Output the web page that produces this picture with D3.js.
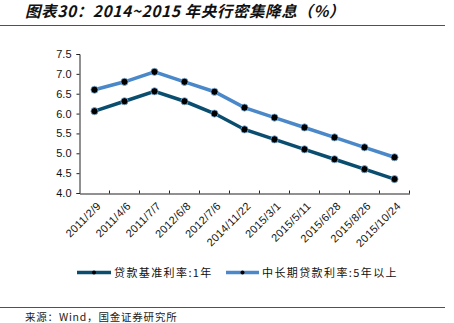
<!DOCTYPE html>
<html><head><meta charset="utf-8">
<script src="https://cdn.jsdelivr.net/npm/d3@7"></script>
<style>body{margin:0;background:#fff}svg{display:block}</style>
</head><body>
<script>
const categories = ["2011/2/9","2011/4/6","2011/7/7","2012/6/8","2012/7/6","2014/11/22","2015/3/1","2015/5/11","2015/6/28","2015/8/26","2015/10/24"];
const loan1y = [6.06,6.31,6.56,6.31,6.00,5.60,5.35,5.10,4.85,4.60,4.35];
const loan5y = [6.60,6.80,7.05,6.80,6.55,6.15,5.90,5.65,5.40,5.15,4.90];
const yTicks = [4.0,4.5,5.0,5.5,6.0,6.5,7.0,7.5];
const seriesNames = ["贷款基准利率:1年","中长期贷款利率:5年以上"];
const titleText = "图表30：2014~2015 年央行密集降息（%）";
const sourceText = "来源：Wind，国金证券研究所";

const W=454,H=323;
const svg=d3.select("body").append("svg").attr("width",W).attr("height",H);
const font="'Noto Sans CJK SC','Liberation Sans',Arial,sans-serif";

// title
svg.append("text").attr("x",25).attr("y",17).attr("font-family",font).attr("font-size",15.5)
  .attr("font-style","italic").attr("font-weight","bold").attr("letter-spacing",0.6).attr("fill","#111").text(titleText);
svg.append("line").attr("x1",0).attr("x2",445).attr("y1",25.5).attr("y2",25.5).attr("stroke","#1f5f8b").attr("stroke-width",1.2);
svg.append("line").attr("x1",0).attr("x2",445).attr("y1",307.5).attr("y2",307.5).attr("stroke","#1f5f8b").attr("stroke-width",1.2);
svg.append("text").attr("x",25).attr("y",321).attr("font-family",font).attr("font-size",10.5).attr("letter-spacing",0.8).attr("fill","#222").text(sourceText);

const x=d3.scaleBand().domain(categories).range([79.5,409.5]);
const y=d3.scaleLinear().domain([4,7.5]).range([193,54]);

const yAxis=svg.append("g").attr("transform","translate(79.5,0)")
  .call(d3.axisLeft(y).tickValues(yTicks).tickFormat(d3.format(".1f")).tickSize(3).tickPadding(5));
yAxis.select(".domain").attr("stroke","#222");
yAxis.selectAll("line").attr("stroke","#222");
yAxis.selectAll("text").attr("font-family","'Liberation Sans',Arial,sans-serif").attr("font-size",11).attr("fill","#111");

const xAxis=svg.append("g").attr("transform","translate(0,193.5)")
  .call(d3.axisBottom(x).tickSize(0).tickSizeOuter(0));
xAxis.select(".domain").attr("stroke","#222");
// ticks at band boundaries
xAxis.selectAll(".bt").data(categories).enter().append("line")
  .attr("x1",(d,i)=>x.range()[0]+x.step()*(i+1)).attr("x2",(d,i)=>x.range()[0]+x.step()*(i+1))
  .attr("y1",0).attr("y2",-3).attr("stroke","#222");
xAxis.selectAll(".tick text").attr("font-family","'Liberation Sans',Arial,sans-serif").attr("font-size",11).attr("letter-spacing",0.3).attr("fill","#111")
  .attr("text-anchor","end").attr("dy",0).attr("transform","translate(5,11) rotate(-45)");

const line=d3.line().x((d,i)=>x(categories[i])+x.bandwidth()/2).y(d=>y(d));
const colors=["#0a4d6e","#4a88c9"];
[loan1y,loan5y].forEach((s,k)=>{
  svg.append("path").datum(s).attr("d",line).attr("fill","none").attr("stroke",colors[k]).attr("stroke-width",3.5);
});
[loan1y,loan5y].forEach((s,k)=>{
  svg.selectAll(".m"+k).data(s).enter().append("circle")
    .attr("cx",(d,i)=>x(categories[i])+x.bandwidth()/2).attr("cy",d=>y(d)).attr("r",3.6)
    .attr("fill","#000").attr("stroke","#7fb2e0").attr("stroke-width",0.8);
});

// legend
const lg=[{x1:77,x2:111,tx:114},{x1:226,x2:259,tx:262}];
lg.forEach((l,k)=>{
  svg.append("line").attr("x1",l.x1).attr("x2",l.x2).attr("y1",272.5).attr("y2",272.5).attr("stroke",colors[k]).attr("stroke-width",3.5);
  svg.append("circle").attr("cx",(l.x1+l.x2)/2).attr("cy",272.5).attr("r",2).attr("fill","#000");
  svg.append("text").attr("x",l.tx).attr("y",276.5).attr("font-family",font).attr("font-size",11).attr("letter-spacing",1.4).attr("fill","#111").text(seriesNames[k]);
});
</script>
</body></html>
